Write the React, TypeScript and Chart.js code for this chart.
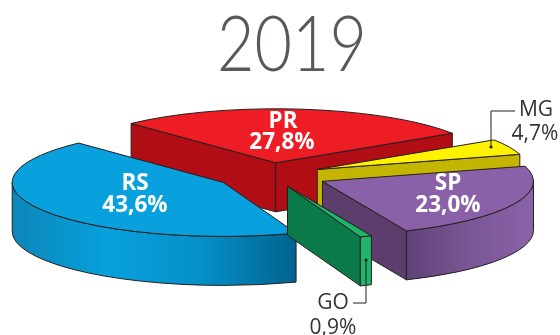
import React, { useEffect, useRef } from "react";
import { Chart, registerables } from "chart.js";

Chart.register(...registerables);

const categories = ["RS", "PR", "MG", "SP", "GO"];
const shares = [43.6, 27.8, 4.7, 23.0, 0.9];
const shareLabels = ["43,6%", "27,8%", "4,7%", "23,0%", "0,9%"];
const explode = [55, 48, 52, 58, 47];
const paintOrder = [1, 2, 3, 0, 4];
const topColors = ["#08a0dd", "#ee1c25", "#fff200", "#8a60a8", "#1fb56a"];
const faceColors = ["#00628f", "#b00d14", "#c4b500", "#5c3d6c", "#0b7a4a"];
const wallStops: string[][] = [
  ["#0c86b8", "#08a0dd", "#0590c8", "#00628f"],
  ["#b00d14", "#b00d14"],
  ["#c4b500", "#c4b500"],
  ["#5f4276", "#7a5796", "#8b62a8"],
  ["#1fb56a", "#1fb56a"],
];

const FLATTEN = 0.256;
const DEPTH = 49;
const RADIUS = 211;
const OUTLINE = "#231f20";
const TITLE_COLOR = "#58595b";
const TEXT_COLOR = "#333335";
const SANS = '"Open Sans", "Noto Sans", sans-serif';

function drawSlice(ctx: CanvasRenderingContext2D, arc: any, i: number) {
  const { x, y, startAngle: a0, endAngle: a1, outerRadius: R } = arc;
  const mid = (a0 + a1) / 2;
  const ex = explode[i];
  const cx = x + Math.cos(mid) * ex;
  const cy = y + Math.sin(mid) * ex * FLATTEN;
  const px = (a: number) => cx + R * Math.cos(a);
  const py = (a: number) => cy + FLATTEN * R * Math.sin(a);

  ctx.save();
  ctx.lineWidth = 1;
  ctx.strokeStyle = OUTLINE;
  ctx.lineJoin = "round";

  const radial = (a: number) => {
    ctx.beginPath();
    ctx.moveTo(cx, cy);
    ctx.lineTo(px(a), py(a));
    ctx.lineTo(px(a), py(a) + DEPTH);
    ctx.lineTo(cx, cy + DEPTH);
    ctx.closePath();
    ctx.fillStyle = faceColors[i];
    ctx.fill();
    ctx.stroke();
  };
  if (Math.cos(a0) < 0) radial(a0);
  if (Math.cos(a1) > 0) radial(a1);

  for (const base of [0, 2 * Math.PI]) {
    const lo = Math.max(a0, base);
    const hi = Math.min(a1, base + Math.PI);
    if (hi <= lo) continue;
    const g = ctx.createLinearGradient(Math.min(px(lo), px(hi)), 0, Math.max(px(lo), px(hi)), 0);
    const stops = wallStops[i];
    stops.forEach((c, n) => g.addColorStop(n / (stops.length - 1), c));
    ctx.beginPath();
    ctx.ellipse(cx, cy, R, FLATTEN * R, 0, lo, hi, false);
    ctx.lineTo(px(hi), py(hi) + DEPTH);
    ctx.ellipse(cx, cy + DEPTH, R, FLATTEN * R, 0, hi, lo, true);
    ctx.closePath();
    ctx.fillStyle = g;
    ctx.fill();
    ctx.stroke();
  }

  // Top face: the library's own arc element, flattened and moved out.
  ctx.save();
  ctx.translate(cx, cy);
  ctx.scale(1, FLATTEN);
  ctx.translate(-x, -y);
  arc.draw(ctx);
  ctx.restore();

  ctx.beginPath();
  ctx.moveTo(cx, cy);
  ctx.lineTo(px(a0), py(a0));
  ctx.ellipse(cx, cy, R, FLATTEN * R, 0, a0, a1, false);
  ctx.closePath();
  ctx.stroke();
  ctx.restore();
}

function leader(ctx: CanvasRenderingContext2D, pts: number[][]) {
  ctx.save();
  ctx.strokeStyle = "#231f20";
  ctx.fillStyle = "#231f20";
  ctx.lineWidth = 1;
  ctx.beginPath();
  pts.forEach((p, n) => (n ? ctx.lineTo(p[0], p[1]) : ctx.moveTo(p[0], p[1])));
  ctx.stroke();
  ctx.beginPath();
  ctx.arc(pts[0][0], pts[0][1], 1.6, 0, Math.PI * 2);
  ctx.fill();
  ctx.restore();
}

function text(ctx: CanvasRenderingContext2D, s: string, x: number, y: number, font: string, color: string) {
  ctx.font = font;
  ctx.fillStyle = color;
  ctx.textAlign = "center";
  ctx.textBaseline = "middle";
  ctx.fillText(s, x, y);
}

const pseudo3d = {
  id: "pseudo3d",
  beforeDatasetsDraw(chart: any) {
    const ctx = chart.ctx;
    const arcs = chart.getDatasetMeta(0).data;
    paintOrder.forEach((i) => drawSlice(ctx, arcs[i], i));
    return false;
  },
  afterDraw(chart: any) {
    const ctx: CanvasRenderingContext2D = chart.ctx;
    ctx.save();
    ctx.save();
    ctx.translate(292, 46);
    ctx.scale(0.85, 1);
    text(ctx, "2019", 0, 0, `300 76px Lato, "Open Sans", sans-serif`, TITLE_COLOR);
    ctx.restore();

    const bold = `700 22.5px ${SANS}`;
    text(ctx, categories[0], 135, 184, bold, "#fff");
    text(ctx, shareLabels[0], 135, 206, bold, "#fff");
    text(ctx, categories[1], 283, 122, bold, "#fff");
    text(ctx, shareLabels[1], 282, 143, bold, "#fff");
    text(ctx, categories[3], 448, 184, bold, "#fff");
    text(ctx, shareLabels[3], 448, 206, bold, "#fff");

    const reg = `400 21px ${SANS}`;
    text(ctx, categories[2], 536, 110, reg, TEXT_COLOR);
    text(ctx, shareLabels[2], 535, 134, reg, TEXT_COLOR);
    text(ctx, categories[4], 333, 303, reg, TEXT_COLOR);
    text(ctx, shareLabels[4], 333, 328, reg, TEXT_COLOR);

    leader(ctx, [[491, 147], [491, 111], [515, 111]]);
    leader(ctx, [[366, 260], [366, 303], [353, 303]]);
    ctx.restore();
  },
};

export default function App() {
  const ref = useRef<HTMLCanvasElement>(null);
  useEffect(() => {
    const chart = new Chart(ref.current!, {
      type: "pie",
      data: {
        labels: categories,
        datasets: [{ data: shares, backgroundColor: topColors, borderWidth: 0 }],
      },
      options: {
        responsive: false,
        animation: false,
        rotation: 159.8,
        radius: RADIUS,
        layout: { padding: { left: 0, right: 20, top: 15, bottom: 0 } },
        plugins: { legend: { display: false }, tooltip: { enabled: false } },
      },
      plugins: [pseudo3d],
    } as any);
    return () => chart.destroy();
  }, []);
  return (
    <div style={{ position: "fixed", left: 0, top: 0, width: 560, height: 335, background: "#fff" }}>
      <canvas ref={ref} width={560} height={335} style={{ display: "block" }} />
    </div>
  );
}
